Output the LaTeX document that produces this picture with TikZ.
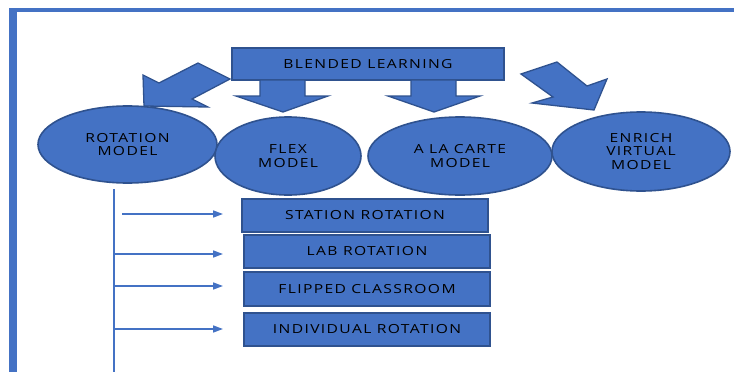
\documentclass[tikz,border=0pt]{standalone}
\usepackage{fontspec}
\setmainfont{Open Sans}[FakeStretch=1.25, LetterSpace=11]
\usetikzlibrary{shapes.geometric,arrows.meta}
\definecolor{fillblue}{HTML}{4472C4}
\definecolor{edgeblue}{HTML}{2F528F}
\tikzset{
  model/.style={ellipse, draw=edgeblue, fill=fillblue, line width=1.6pt,
    inner sep=0pt, align=center, font=\fontsize{12.5}{13.5}\selectfont},
  kind/.style={rectangle, draw=edgeblue, fill=fillblue, line width=2pt,
    inner sep=0pt, font=\fontsize{12.5}{13.5}\selectfont},
  blockarrow/.style={fill=fillblue, draw=edgeblue, line width=1.3pt, line join=miter},
  conn/.style={draw=fillblue, line width=1.6pt,
    -{Triangle[length=10pt,width=7pt]}},
}
\begin{document}
\begin{tikzpicture}[x=1pt,y=-1pt]
\useasboundingbox (0,0) rectangle (734,372);
\fill[white] (0,0) rectangle (734,372);
% page frame
\fill[fillblue] (9,8) rectangle (17,372);
\fill[fillblue] (9,8) rectangle (734,12);

% heading box
\node[kind, minimum width=272pt, minimum height=32pt] (bl) at (368,64) {BLENDED LEARNING};

% block arrows from the heading to the four models
\draw[blockarrow] (198,63) -- (230,79) -- (192,99) -- (208,107) -- (144,106)
  -- (143,75) -- (159,83) -- cycle;
\draw[blockarrow] (260,80) -- (305,80) -- (305,96) -- (328,96) -- (283,112)
  -- (236,96) -- (260,96) -- cycle;
\draw[blockarrow] (411,80) -- (456,80) -- (456,96) -- (480,96) -- (434,112)
  -- (388,96) -- (411,96) -- cycle;
\draw[blockarrow] (521,74) -- (557,62) -- (587,86) -- (607,79) -- (594,110)
  -- (532,103) -- (553,97) -- cycle;

% the four models
\node[model, minimum width=179pt, minimum height=77pt] (rot) at (127.5,144.5) {ROTATION\\MODEL};
\node[model, minimum width=146pt, minimum height=78pt] (flex) at (288,156) {FLEX\\MODEL};
\node[model, minimum width=184pt, minimum height=78pt] (alc) at (460,156) {A LA CARTE\\MODEL};
\node[model, minimum width=178pt, minimum height=79pt] (env) at (641,151.5) {ENRICH\\VIRTUAL\\MODEL};

% rotation sub-models
\node[kind, minimum width=246pt, minimum height=33pt] (st) at (365,215.5) {STATION ROTATION};
\node[kind, minimum width=246pt, minimum height=33pt] (lab) at (367,251.5) {LAB ROTATION};
\node[kind, minimum width=246pt, minimum height=34pt] (fc) at (367,289) {FLIPPED CLASSROOM};
\node[kind, minimum width=246pt, minimum height=33pt] (ir) at (367,329.5) {INDIVIDUAL ROTATION};

% trunk line and branches
\coordinate (vtop) at (114,189);
\coordinate (vbot) at (114,372);
\draw[fillblue, line width=1.8pt] (vtop) -- (vbot);
\coordinate (b1) at (122,214);
\coordinate (b2) at (114,254);
\coordinate (b3) at (114,286);
\coordinate (b4) at (114,329);
\draw[conn, shorten >=18pt] (b1) -- (b1 -| st.west);
\draw[conn, shorten >=20pt] (b2) -- (b2 -| lab.west);
\draw[conn, shorten >=20pt] (b3) -- (b3 -| fc.west);
\draw[conn, shorten >=20pt] (b4) -- (b4 -| ir.west);
\end{tikzpicture}
\end{document}
